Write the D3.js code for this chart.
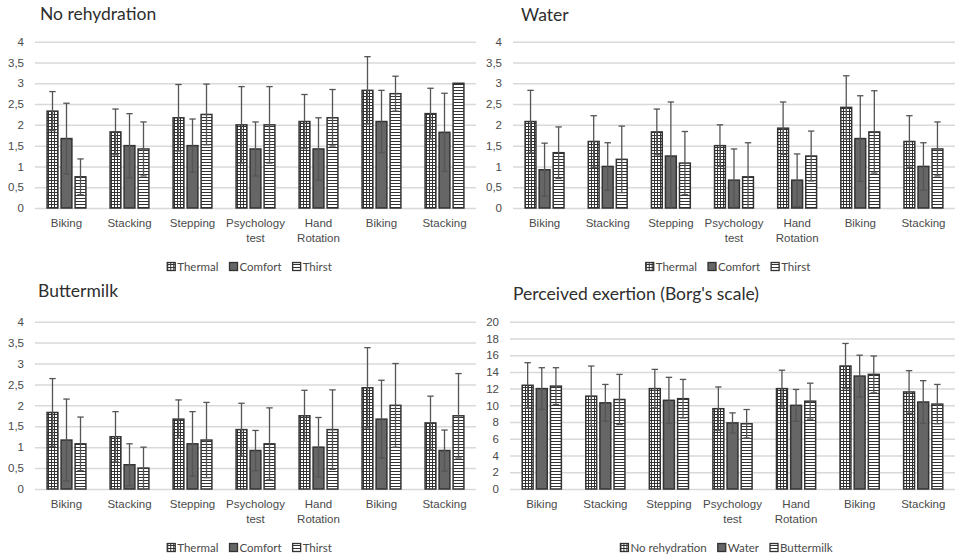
<!DOCTYPE html>
<html>
<head>
<meta charset="utf-8">
<script src="https://cdn.jsdelivr.net/npm/d3@7"></script>
<style>
  body { margin: 0; background: #fff; }
  svg { font-family: Lato, "Open Sans", sans-serif; }
</style>
</head>
<body>
<div class="canvas"></div>
<script>
// categories (x axis), same order in every panel
const categories = ["Biking", "Stacking", "Stepping", "Psychology test", "Hand Rotation", "Biking", "Stacking"]
const sensationSeries = ["Thermal", "Comfort", "Thirst"]
const drinkSeries = ["No rehydration", "Water", "Buttermilk"]
const ticksSensation = [0, 0.5, 1, 1.5, 2, 2.5, 3, 3.5, 4]
const ticksBorg = [0, 2, 4, 6, 8, 10, 12, 14, 16, 18, 20]

// No rehydration: means and error (+/-)
const noRehThermal = [2.33, 1.83, 2.17, 2.0, 2.08, 2.83, 2.27]
const noRehThermalErr = [0.47, 0.55, 0.8, 0.92, 0.65, 0.81, 0.61]
const noRehComfort = [1.67, 1.5, 1.5, 1.42, 1.42, 2.08, 1.82]
const noRehComfortErr = [0.85, 0.77, 0.64, 0.65, 0.75, 0.75, 0.94]
const noRehThirst = [0.75, 1.42, 2.25, 2.0, 2.17, 2.75, 3.0]
const noRehThirstErr = [0.43, 0.65, 0.73, 0.92, 0.68, 0.42, 0]

// Water
const waterThermal = [2.08, 1.6, 1.83, 1.5, 1.92, 2.42, 1.6]
const waterThermalErr = [0.75, 0.62, 0.55, 0.5, 0.63, 0.76, 0.62]
const waterComfort = [0.92, 1.0, 1.25, 0.67, 0.67, 1.67, 1.0]
const waterComfortErr = [0.64, 0.57, 1.3, 0.75, 0.63, 1.03, 0.57]
const waterThirst = [1.33, 1.17, 1.08, 0.75, 1.25, 1.83, 1.42]
const waterThirstErr = [0.62, 0.8, 0.76, 0.82, 0.6, 0.99, 0.65]

// Buttermilk
const butterThermal = [1.83, 1.25, 1.67, 1.42, 1.75, 2.42, 1.58]
const butterThermalErr = [0.81, 0.6, 0.46, 0.63, 0.61, 0.96, 0.64]
const butterComfort = [1.17, 0.58, 1.08, 0.92, 1.0, 1.67, 0.92]
const butterComfortErr = [0.98, 0.5, 0.77, 0.48, 0.71, 0.93, 0.49]
const butterThirst = [1.08, 0.5, 1.17, 1.08, 1.42, 2.0, 1.75]
const butterThirstErr = [0.64, 0.5, 0.9, 0.86, 0.95, 1.0, 1.01]

// Perceived exertion (Borg)
const borgNoReh = [12.4, 11.1, 12.0, 9.6, 12.0, 14.7, 11.6]
const borgNoRehErr = [2.7, 3.6, 2.3, 2.6, 2.2, 2.7, 2.55]
const borgWater = [12.0, 10.3, 10.6, 7.9, 10.0, 13.5, 10.4]
const borgWaterErr = [2.5, 2.2, 2.75, 1.2, 1.9, 2.5, 2.55]
const borgButter = [12.3, 10.7, 10.8, 7.8, 10.5, 13.7, 10.15]
const borgButterErr = [2.2, 3.0, 2.3, 1.7, 2.15, 2.2, 2.35]

const width = 957, height = 557
const dark = "#333"
const labelColor = "#4a4a4a"
const fills = ["url(#grid)", "#666", "url(#hlines)"]

const svg = d3.select(".canvas").append("svg").attr("width", width).attr("height", height)

// patterns
const defs = svg.append("defs")
const grid = defs.append("pattern").attr("id", "grid").attr("patternUnits", "userSpaceOnUse")
    .attr("width", 3).attr("height", 3)
grid.append("rect").attr("width", 3).attr("height", 3).attr("fill", "#fff")
grid.append("path").attr("d", "M0,0.5H3M0.5,0V3").attr("stroke", dark).attr("stroke-width", 1)

const hlines = defs.append("pattern").attr("id", "hlines").attr("patternUnits", "userSpaceOnUse")
    .attr("width", 3).attr("height", 3)
hlines.append("rect").attr("width", 3).attr("height", 3).attr("fill", "#fff")
hlines.append("path").attr("d", "M0,0.5H3").attr("stroke", dark).attr("stroke-width", 1)

const fmt = d => String(d).replace(".", ",")

const panels = [
    {title: "No rehydration", left: 35, right: 476, top: 41.7, bottom: 208, titleX: 40, titleY: 20, legendY: 267,
     ticks: ticksSensation, series: sensationSeries,
     values: [noRehThermal, noRehComfort, noRehThirst], errs: [noRehThermalErr, noRehComfortErr, noRehThirstErr]},
    {title: "Water", left: 513, right: 955, top: 41.7, bottom: 208, titleX: 521, titleY: 21, legendY: 267,
     ticks: ticksSensation, series: sensationSeries,
     values: [waterThermal, waterComfort, waterThirst], errs: [waterThermalErr, waterComfortErr, waterThirstErr]},
    {title: "Buttermilk", left: 35, right: 476, top: 321.7, bottom: 489, titleX: 38, titleY: 297, legendY: 548,
     ticks: ticksSensation, series: sensationSeries,
     values: [butterThermal, butterComfort, butterThirst], errs: [butterThermalErr, butterComfortErr, butterThirstErr]},
    {title: "Perceived exertion (Borg's scale)", left: 510, right: 955, top: 321.7, bottom: 489, titleX: 513, titleY: 300, legendY: 548,
     ticks: ticksBorg, series: drinkSeries,
     values: [borgNoReh, borgWater, borgButter], errs: [borgNoRehErr, borgWaterErr, borgButterErr]}
]

const wrap = (text, w) => {
    text.each(function() {
        const t = d3.select(this)
        const words = t.text().split(/\s+/)
        const y = t.attr("y"), dy = parseFloat(t.attr("dy"))
        t.text(null)
        let line = []
        let tspan = t.append("tspan").attr("x", 0).attr("y", y).attr("dy", dy + "em")
        let n = 0
        words.forEach(word => {
            line.push(word)
            tspan.text(line.join(" "))
            if (tspan.node().getComputedTextLength() > w && line.length > 1) {
                line.pop()
                tspan.text(line.join(" "))
                line = [word]
                n++
                tspan = t.append("tspan").attr("x", 0).attr("y", y).attr("dy", (n * 1.3 + dy) + "em").text(word)
            }
        })
    })
}

const drawPanel = p => {
    const g = svg.append("g")
    const idx = d3.range(categories.length)

    const x0 = d3.scaleBand().domain(idx).range([p.left, p.right]).paddingInner(0.365).paddingOuter(0.1825)
    const x1 = d3.scaleBand().domain(d3.range(p.series.length)).range([0, x0.bandwidth()]).paddingInner(0.143)
    const y = d3.scaleLinear().domain([0, d3.max(p.ticks)]).range([p.bottom, p.top]).clamp(true)

    // gridlines + y labels
    const yAxis = d3.axisLeft(y).tickValues(p.ticks).tickFormat(fmt)
        .tickSize(-(p.right - p.left)).tickPadding(11)
    const yg = g.append("g").attr("transform", `translate(${p.left},0)`).call(yAxis)
    yg.select(".domain").remove()
    yg.selectAll("line").attr("stroke", "#d9d9d9").attr("stroke-width", 1.5)
    yg.selectAll("text").attr("fill", labelColor).attr("font-size", 11.5)

    // x labels
    const xAxis = d3.axisBottom(x0).tickFormat(i => categories[i]).tickSize(0).tickPadding(11)
    const xg = g.append("g").attr("transform", `translate(0,${p.bottom})`).call(xAxis)
    xg.select(".domain").remove()
    xg.selectAll("text").attr("fill", labelColor).attr("font-size", 11.5).call(wrap, x0.step())

    // bars
    p.series.forEach((s, si) => {
        const data = idx.map(i => ({i, v: p.values[si][i], e: p.errs[si][i]}))
        g.append("g").selectAll("rect").data(data).enter().append("rect")
            .attr("x", d => x0(d.i) + x1(si) + 0.6)
            .attr("width", x1.bandwidth() - 1.2)
            .attr("y", d => y(d.v))
            .attr("height", d => p.bottom - y(d.v))
            .attr("fill", fills[si])
            .attr("stroke", dark).attr("stroke-width", 1.5)
    })

    // error bars
    p.series.forEach((s, si) => {
        const data = idx.map(i => ({i, v: p.values[si][i], e: p.errs[si][i]})).filter(d => d.e > 0)
        const eg = g.append("g").attr("stroke", "#555").attr("stroke-width", 1.3)
        const cx = d => x0(d.i) + x1(si) + x1.bandwidth() / 2
        eg.selectAll(".stem").data(data).enter().append("line")
            .attr("x1", cx).attr("x2", cx)
            .attr("y1", d => y(d.v + d.e)).attr("y2", d => y(d.v - d.e))
        eg.selectAll(".capTop").data(data).enter().append("line")
            .attr("x1", d => cx(d) - 3.2).attr("x2", d => cx(d) + 3.2)
            .attr("y1", d => y(d.v + d.e)).attr("y2", d => y(d.v + d.e))
        eg.selectAll(".capBot").data(data.filter(d => d.v - d.e > 0)).enter().append("line")
            .attr("x1", d => cx(d) - 3.2).attr("x2", d => cx(d) + 3.2)
            .attr("y1", d => y(d.v - d.e)).attr("y2", d => y(d.v - d.e))
    })

    // title
    g.append("text").attr("x", p.titleX).attr("y", p.titleY)
        .attr("font-size", 17.5).attr("fill", "#2e2e2e").text(p.title)

    // legend
    const lg = g.append("g")
    let cursor = 0
    p.series.forEach((s, si) => {
        const item = lg.append("g").attr("transform", `translate(${cursor},0)`)
        item.append("rect").attr("x", 0).attr("y", -4.5).attr("width", 8).attr("height", 8)
            .attr("fill", fills[si]).attr("stroke", dark).attr("stroke-width", 1.3)
        const t = item.append("text").attr("x", 10).attr("y", 0).attr("dy", "0.35em")
            .attr("font-size", 11.5).attr("fill", labelColor).text(s)
        cursor += 10 + t.node().getComputedTextLength() + 11
    })
    const lw = cursor - 11
    lg.attr("transform", `translate(${(p.left + p.right) / 2 - 6 - lw / 2},${p.legendY})`)
}

panels.forEach(drawPanel)
</script>
</body>
</html>
